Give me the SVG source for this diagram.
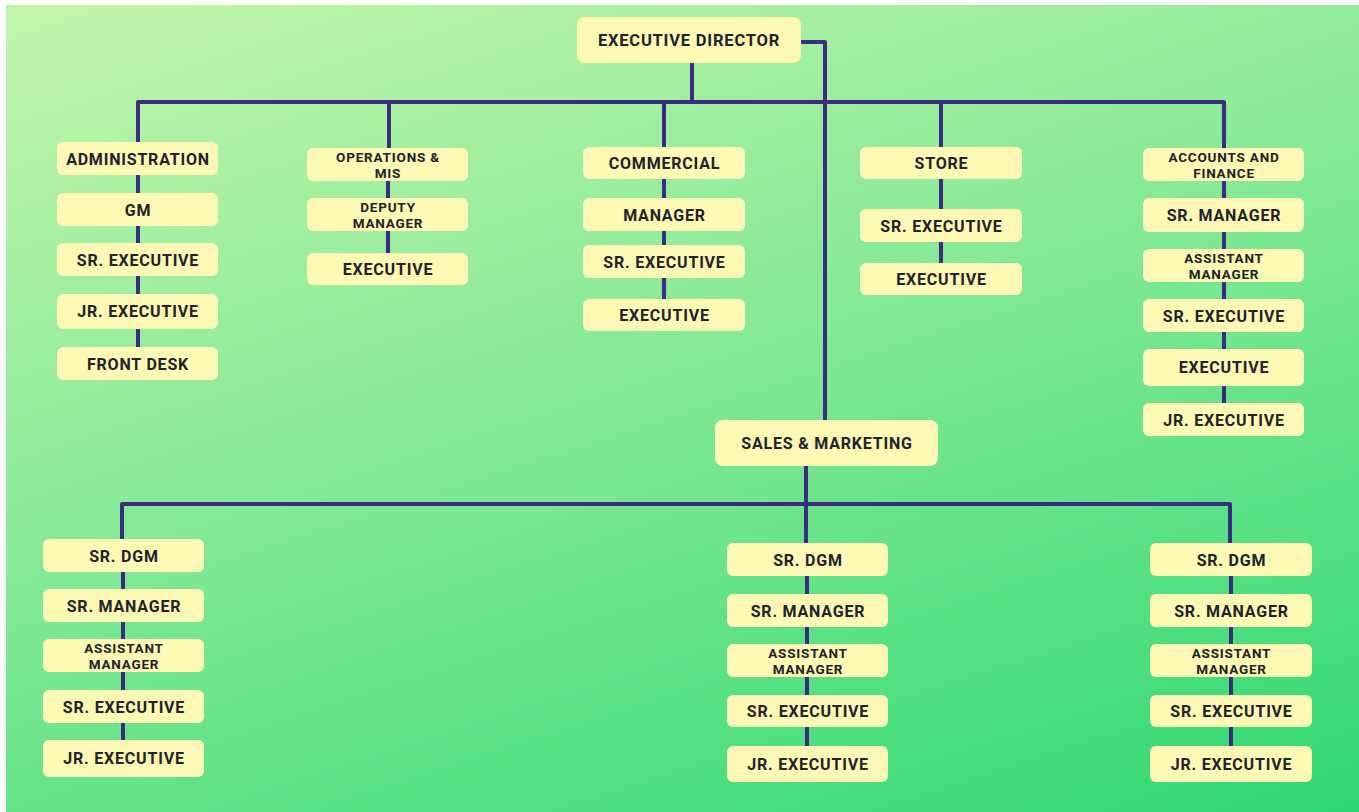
<svg xmlns="http://www.w3.org/2000/svg" width="1359" height="812" viewBox="0 0 1359 812">
<defs>
<linearGradient id="bg" gradientUnits="userSpaceOnUse" x1="0" y1="0" x2="364" y2="1132">
<stop offset="0" stop-color="#c4f6ac"/>
<stop offset="0.5" stop-color="#7fe894"/>
<stop offset="1" stop-color="#2fd872"/>
</linearGradient>
<style>
.box{fill:#fdf8b3;}
.t{font-family:Roboto,"Liberation Sans",sans-serif;font-weight:700;font-size:16px;letter-spacing:0.8px;fill:#22212c;text-anchor:middle;}
.t2{font-family:Roboto,"Liberation Sans",sans-serif;font-weight:700;font-size:13.5px;letter-spacing:0.8px;fill:#22212c;text-anchor:middle;}
.ln{fill:none;stroke:#3b2c82;stroke-width:4;stroke-linejoin:round;}
</style>
</defs>
<rect x="0" y="0" width="1359" height="812" fill="#ffffff"/>
<rect x="6" y="5" width="1353" height="807" fill="url(#bg)"/>

<g id="connectors" class="ln">
<path d="M692,63 V102"/>
<path d="M138,142 V102 H1224 V148"/>
<path d="M389,102 V148"/>
<path d="M664,102 V147"/>
<path d="M941,102 V147"/>
<path d="M801,42 H825 V420"/>
<path d="M138,175 V193 M138,226 V243 M138,276 V294 M138,329 V347"/>
<path d="M388,181 V198 M388,231 V253"/>
<path d="M664,179 V198 M664,231 V245 M664,278 V299"/>
<path d="M941,179 V209 M941,242 V263"/>
<path d="M1224,181 V198 M1224,232 V249 M1224,282 V299 M1224,332 V349 M1224,386 V403"/>
<path d="M806,466 V543"/>
<path d="M122,539 V504 H1230 V543"/>
<path d="M123,572 V589 M123,622 V639 M123,672 V690 M123,723 V740"/>
<path d="M807,576 V594 M807,627 V644 M807,677 V695 M807,727 V746"/>
<path d="M1231,576 V594 M1231,627 V644 M1231,677 V695 M1231,727 V746"/>
</g>

<g id="exec-director"><rect class="box" x="577" y="17" width="224" height="46" rx="8"/><text class="t" x="689" y="46" style="font-size:16.5px">EXECUTIVE DIRECTOR</text></g>

<g id="administration"><rect class="box" x="57" y="142" width="161" height="33" rx="6"/><text class="t" x="138" y="164.5">ADMINISTRATION</text></g>
<g id="adm-gm"><rect class="box" x="57" y="193" width="161" height="33" rx="6"/><text class="t" x="138" y="215.5">GM</text></g>
<g id="adm-sr-exec"><rect class="box" x="57" y="243" width="161" height="33" rx="6"/><text class="t" x="138" y="265.5">SR. EXECUTIVE</text></g>
<g id="adm-jr-exec"><rect class="box" x="57" y="294" width="161" height="35" rx="6"/><text class="t" x="138" y="317">JR. EXECUTIVE</text></g>
<g id="adm-front-desk"><rect class="box" x="57" y="347" width="161" height="33" rx="6"/><text class="t" x="138" y="369.5">FRONT DESK</text></g>

<g id="operations"><rect class="box" x="307" y="148" width="161" height="33" rx="6"/><text class="t2" x="388" y="162">OPERATIONS &amp;</text><text class="t2" x="388" y="177.5">MIS</text></g>
<g id="ops-deputy"><rect class="box" x="307" y="198" width="161" height="33" rx="6"/><text class="t2" x="388" y="212">DEPUTY</text><text class="t2" x="388" y="227.5">MANAGER</text></g>
<g id="ops-exec"><rect class="box" x="307" y="253" width="161" height="32" rx="6"/><text class="t" x="388" y="275">EXECUTIVE</text></g>

<g id="commercial"><rect class="box" x="583" y="147" width="162" height="32" rx="6"/><text class="t" x="664.5" y="169">COMMERCIAL</text></g>
<g id="com-manager"><rect class="box" x="583" y="198" width="162" height="33" rx="6"/><text class="t" x="664.5" y="220.5">MANAGER</text></g>
<g id="com-sr-exec"><rect class="box" x="583" y="245" width="162" height="33" rx="6"/><text class="t" x="664.5" y="267.5">SR. EXECUTIVE</text></g>
<g id="com-exec"><rect class="box" x="583" y="299" width="162" height="32" rx="6"/><text class="t" x="664.5" y="321">EXECUTIVE</text></g>

<g id="store"><rect class="box" x="860" y="147" width="162" height="32" rx="6"/><text class="t" x="941.5" y="169">STORE</text></g>
<g id="store-sr-exec"><rect class="box" x="860" y="209" width="162" height="33" rx="6"/><text class="t" x="941.5" y="231.5">SR. EXECUTIVE</text></g>
<g id="store-exec"><rect class="box" x="860" y="263" width="162" height="32" rx="6"/><text class="t" x="941.5" y="285">EXECUTIVE</text></g>

<g id="accounts"><rect class="box" x="1143" y="148" width="161" height="33" rx="6"/><text class="t2" x="1224" y="162">ACCOUNTS AND</text><text class="t2" x="1224" y="177.5">FINANCE</text></g>
<g id="acc-sr-manager"><rect class="box" x="1143" y="198" width="161" height="34" rx="6"/><text class="t" x="1224" y="221">SR. MANAGER</text></g>
<g id="acc-asst-manager"><rect class="box" x="1143" y="249" width="161" height="33" rx="6"/><text class="t2" x="1224" y="263">ASSISTANT</text><text class="t2" x="1224" y="278.5">MANAGER</text></g>
<g id="acc-sr-exec"><rect class="box" x="1143" y="299" width="161" height="33" rx="6"/><text class="t" x="1224" y="321.5">SR. EXECUTIVE</text></g>
<g id="acc-exec"><rect class="box" x="1143" y="349" width="161" height="37" rx="6"/><text class="t" x="1224" y="373">EXECUTIVE</text></g>
<g id="acc-jr-exec"><rect class="box" x="1143" y="403" width="161" height="33" rx="6"/><text class="t" x="1224" y="425.5">JR. EXECUTIVE</text></g>

<g id="sales-marketing"><rect class="box" x="715" y="420" width="223" height="46" rx="8"/><text class="t" x="827" y="449">SALES &amp; MARKETING</text></g>

<g id="l-sr-dgm"><rect class="box" x="43" y="539" width="161" height="33" rx="6"/><text class="t" x="124" y="561.5">SR. DGM</text></g>
<g id="l-sr-manager"><rect class="box" x="43" y="589" width="161" height="33" rx="6"/><text class="t" x="124" y="611.5">SR. MANAGER</text></g>
<g id="l-asst-manager"><rect class="box" x="43" y="639" width="161" height="33" rx="6"/><text class="t2" x="124" y="653">ASSISTANT</text><text class="t2" x="124" y="668.5">MANAGER</text></g>
<g id="l-sr-exec"><rect class="box" x="43" y="690" width="161" height="33" rx="6"/><text class="t" x="124" y="712.5">SR. EXECUTIVE</text></g>
<g id="l-jr-exec"><rect class="box" x="43" y="740" width="161" height="37" rx="6"/><text class="t" x="124" y="764">JR. EXECUTIVE</text></g>

<g id="m-sr-dgm"><rect class="box" x="727" y="543" width="161" height="33" rx="6"/><text class="t" x="808" y="565.5">SR. DGM</text></g>
<g id="m-sr-manager"><rect class="box" x="727" y="594" width="161" height="33" rx="6"/><text class="t" x="808" y="616.5">SR. MANAGER</text></g>
<g id="m-asst-manager"><rect class="box" x="727" y="644" width="161" height="33" rx="6"/><text class="t2" x="808" y="658">ASSISTANT</text><text class="t2" x="808" y="673.5">MANAGER</text></g>
<g id="m-sr-exec"><rect class="box" x="727" y="695" width="161" height="32" rx="6"/><text class="t" x="808" y="717">SR. EXECUTIVE</text></g>
<g id="m-jr-exec"><rect class="box" x="727" y="746" width="161" height="36" rx="6"/><text class="t" x="808" y="769.5">JR. EXECUTIVE</text></g>

<g id="r-sr-dgm"><rect class="box" x="1150" y="543" width="162" height="33" rx="6"/><text class="t" x="1231.5" y="565.5">SR. DGM</text></g>
<g id="r-sr-manager"><rect class="box" x="1150" y="594" width="162" height="33" rx="6"/><text class="t" x="1231.5" y="616.5">SR. MANAGER</text></g>
<g id="r-asst-manager"><rect class="box" x="1150" y="644" width="162" height="33" rx="6"/><text class="t2" x="1231.5" y="658">ASSISTANT</text><text class="t2" x="1231.5" y="673.5">MANAGER</text></g>
<g id="r-sr-exec"><rect class="box" x="1150" y="695" width="162" height="32" rx="6"/><text class="t" x="1231.5" y="717">SR. EXECUTIVE</text></g>
<g id="r-jr-exec"><rect class="box" x="1150" y="746" width="162" height="36" rx="6"/><text class="t" x="1231.5" y="769.5">JR. EXECUTIVE</text></g>
</svg>
